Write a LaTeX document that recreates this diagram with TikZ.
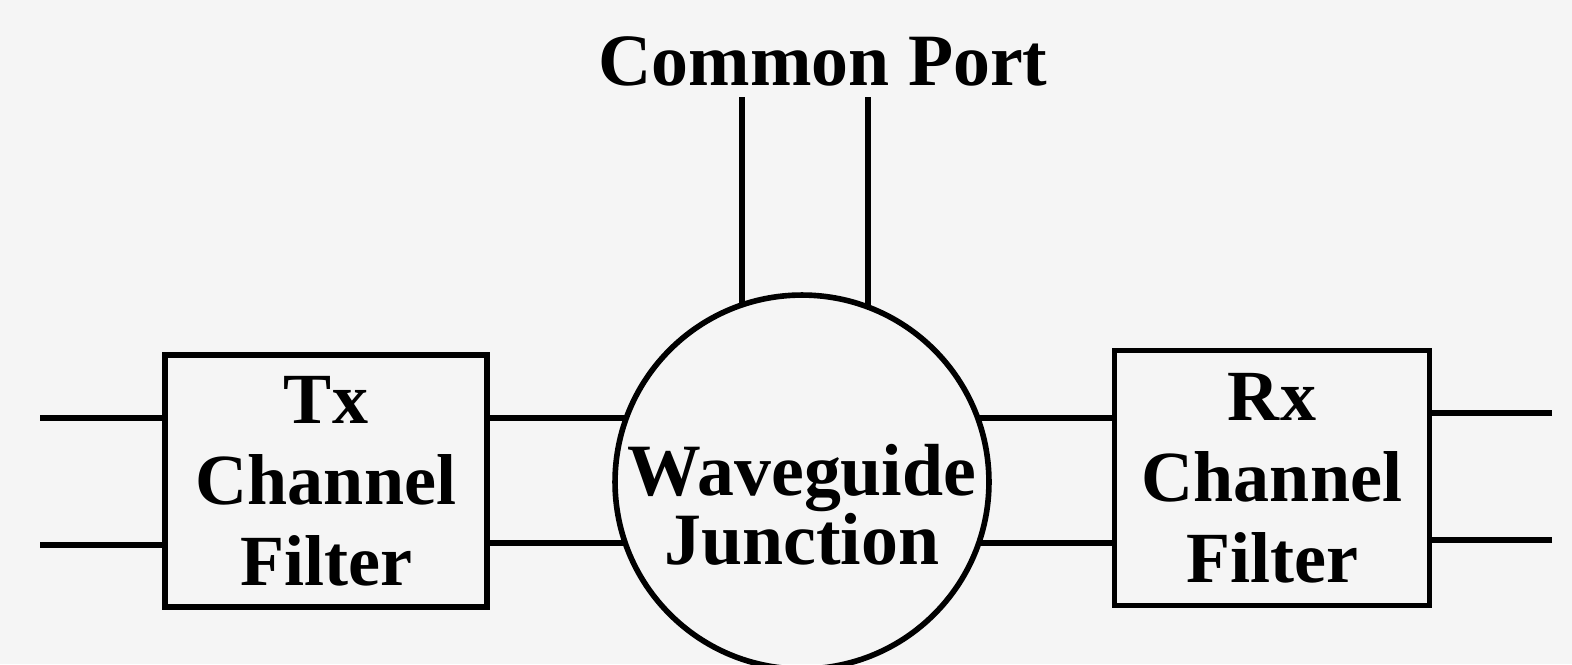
\documentclass[tikz,border=0pt]{standalone}
\usepackage{fontspec}
\setmainfont{Liberation Serif}
\usepackage{tikz}
\usetikzlibrary{positioning,shapes.geometric}
\definecolor{paper}{HTML}{F5F5F5}

\begin{document}
\begin{tikzpicture}[x=0.02cm, y=-0.02cm,
  wire/.style={black, line width=3.2pt},
  filterbox/.style={draw, wire, rectangle, outer sep=0pt, align=center,
    font=\fontsize{41}{46}\selectfont\bfseries},
  junction/.style={draw, wire, circle, outer sep=0pt, minimum size=7.48cm, inner sep=0pt},
  bigtext/.style={font=\fontsize{42}{32}\selectfont\bfseries, align=center}]
\fill[paper] (0,0) rectangle (1572,664);
\useasboundingbox (0,0) rectangle (1572,664);

% blocks
\node[filterbox, minimum width=6.44cm, minimum height=5.04cm] (tx) at (326,481) {Tx\\Channel\\Filter};
\node[junction] (wj) at (802,482) {};
\node[bigtext] (wjlabel) at ([yshift=-0.46cm]wj.center) {Waveguide\\Junction};
\node[filterbox, minimum width=6.3cm, minimum height=5.1cm] (rx) at (1272,478) {Rx\\Channel\\Filter};
\node[font=\fontsize{42}{46}\selectfont\bfseries, anchor=base] (cplabel) at (823,85) {Common Port};

% free ends
\coordinate (txa) at (40,418);
\coordinate (txb) at (40,545);
\coordinate (rxa) at (1552,413);
\coordinate (rxb) at (1552,540);
\coordinate (cpa) at (742,97);
\coordinate (cpb) at (868,97);

% wires
\draw[wire] (txa) -- (txa -| tx.west);
\draw[wire] (txb) -- (txb -| tx.west);
\draw[wire] (wj.160) -- (wj.160 -| tx.east);
\draw[wire] (wj.199) -- (wj.199 -| tx.east);
\draw[wire] (wj.20) -- (wj.20 -| rx.west);
\draw[wire] (wj.341.6) -- (wj.341.6 -| rx.west);
\draw[wire] (rxa) -- (rxa -| rx.east);
\draw[wire] (rxb) -- (rxb -| rx.east);
\draw[wire] (cpa) -- (cpa |- wj.108.7);
\draw[wire] (cpb) -- (cpb |- wj.69.3);
\end{tikzpicture}
\end{document}
